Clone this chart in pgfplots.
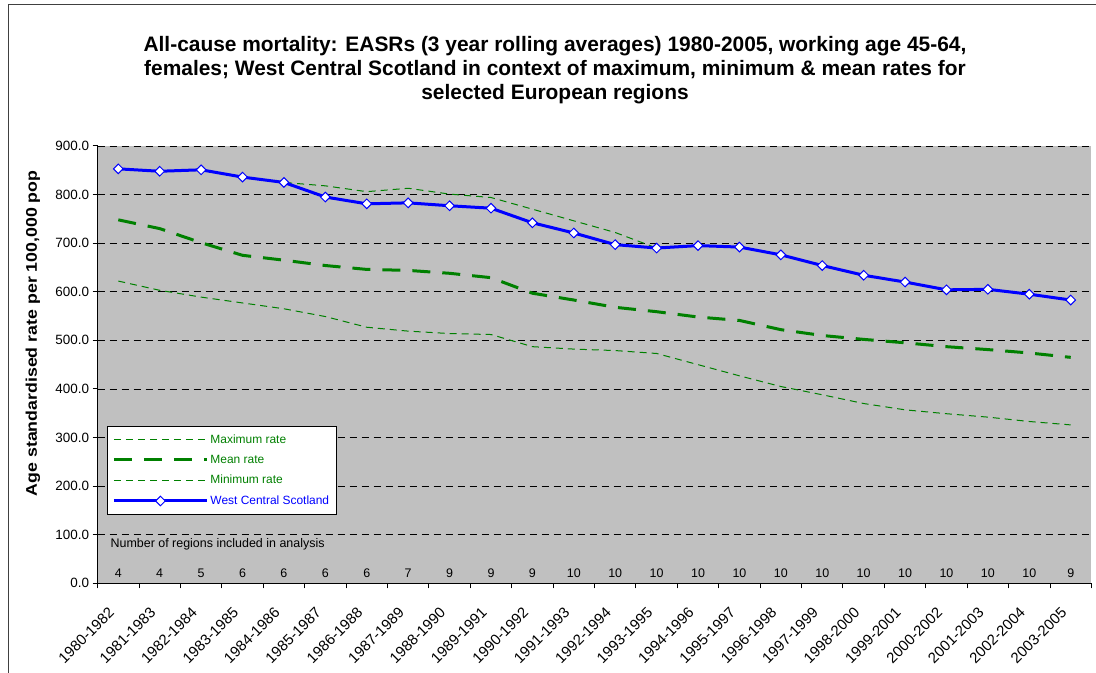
\documentclass[border=0pt]{standalone}
\usepackage{fontspec}
\setmainfont{Liberation Sans}
\usepackage{pgfplots}
\pgfplotsset{compat=1.18}
\definecolor{plotgray}{RGB}{192,192,192}
\definecolor{xlgreen}{RGB}{0,128,0}
\definecolor{xlblue}{RGB}{0,0,255}

\pgfplotstableread{
x wcs maxr meanr minr
0  853 853 748 622
1  848 848 730 603
2  851 851 701 589
3  836 836 675 577
4  825 825 665 565
5  795 818 654 549
6  781 806 646 527
7  783 813 644 519
8  777 801 638 514
9  772 794 629 512
10 742 770 597 487
11 721 746 583 482
12 697 722 568 479
13 690 690 559 473
14 695 695 548 450
15 692 692 541 427
16 676 676 522 405
17 654 654 510 388
18 634 634 502 370
19 620 620 495 357
20 604 604 487 349
21 605 605 481 342
22 595 595 474 333
23 583 583 465 326
}\ratedata

\begin{document}
\begin{tikzpicture}[x=1bp,y=1bp]
\path[use as bounding box] (-97.6,-89.7) rectangle (998.4,583.3);
\draw[line width=1bp, black!75] (-88.6,-89.7) -- (-88.6,578.3) -- (998.4,578.3);

\node[align=center, font=\bfseries\fontsize{21}{24}\selectfont] at (457.4,513.3)
  {All-cause mortality: EASRs (3 year rolling averages) 1980-2005, working age 45-64,\\
   females; West Central Scotland in context of maximum, minimum \& mean rates for\\
   selected European regions};

\node[rotate=90, font=\bfseries\fontsize{15.5}{15.5}\selectfont] at (-64.6,250)
  {\scalebox{1.15}[1]{Age standardised rate per 100,000 pop}};

\begin{axis}[
  scale only axis, width=993.8bp, height=437.3bp,
  xmin=-0.5, xmax=23.5, ymin=0, ymax=900,
  axis background/.style={fill=plotgray},
  axis x line*=bottom, axis y line*=left,
  axis line style={-, line width=1bp, black},
  ytick={0,100,...,900},
  yticklabel style={/pgf/number format/fixed, /pgf/number format/fixed zerofill,
    /pgf/number format/precision=1, /pgf/number format/assume math mode=true},
  y tick label style={font=\fontsize{13.5}{13.5}\selectfont},
  ymajorgrids,
  major grid style={black, line width=0.8bp, dash pattern=on 7bp off 5bp},
  xtick={0,...,23},
  xticklabels={1980-1982,1981-1983,1982-1984,1983-1985,1984-1986,1985-1987,1986-1988,1987-1989,1988-1990,1989-1991,1990-1992,1991-1993,1992-1994,1993-1995,1994-1996,1995-1997,1996-1998,1997-1999,1998-2000,1999-2001,2000-2002,2001-2003,2002-2004,2003-2005},
  minor xtick={-0.5,0.5,...,23.5},
  major x tick style={draw=none},
  tick style={black, line width=1bp},
  tick align=outside, major tick length=5bp, minor tick length=5bp,
  x tick label style={rotate=45, anchor=north east, font=\fontsize{15}{15}\selectfont,
    inner sep=1bp, xshift=-19bp, yshift=-4bp},
  legend cell align=left,
  legend style={at={(0.0095,0.3597)}, anchor=north west, draw=black, fill=white,
    line width=0.8bp, font=\fontsize{12}{12}\selectfont, row sep=6.5bp,
    inner xsep=5bp, inner ysep=6bp},
  legend image code/.code={\draw[#1, mark repeat=2, mark phase=2]
    plot coordinates {(0bp,0bp) (46.5bp,0bp) (93bp,0bp)};},
]
\addplot[xlgreen, line width=1bp, dash pattern=on 7bp off 5bp] table[x=x, y=maxr] {\ratedata};
\addlegendentry{\textcolor{xlgreen}{Maximum rate}}
\addplot[xlgreen, line width=3bp, dash pattern=on 18bp off 12bp] table[x=x, y=meanr] {\ratedata};
\addlegendentry{\textcolor{xlgreen}{Mean rate}}
\addplot[xlgreen, line width=1bp, dash pattern=on 7bp off 5bp] table[x=x, y=minr] {\ratedata};
\addlegendentry{\textcolor{xlgreen}{Minimum rate}}
\addplot[xlblue, line width=3bp, mark=square*,
  mark options={solid, rotate=45, fill=white, draw=xlblue, line width=1bp, mark size=3.4bp}]
  table[x=x, y=wcs] {\ratedata};
\addlegendentry{\textcolor{xlblue}{West Central Scotland}}

\addplot[forget plot, draw=none, mark=none, nodes near coords, point meta=explicit symbolic,
  nodes near coords style={anchor=center, font=\fontsize{12.5}{12.5}\selectfont, text=black}]
  coordinates {(0,21)[4] (1,21)[4] (2,21)[5] (3,21)[6] (4,21)[6] (5,21)[6] (6,21)[6] (7,21)[7]
    (8,21)[9] (9,21)[9] (10,21)[9] (11,21)[10] (12,21)[10] (13,21)[10] (14,21)[10] (15,21)[10]
    (16,21)[10] (17,21)[10] (18,21)[10] (19,21)[10] (20,21)[10] (21,21)[10] (22,21)[10] (23,21)[9]};
\node[anchor=west, font=\fontsize{12.5}{12.5}\selectfont] at (axis cs:-0.27,80)
  {Number of regions included in analysis};
\end{axis}
\end{tikzpicture}
\end{document}
